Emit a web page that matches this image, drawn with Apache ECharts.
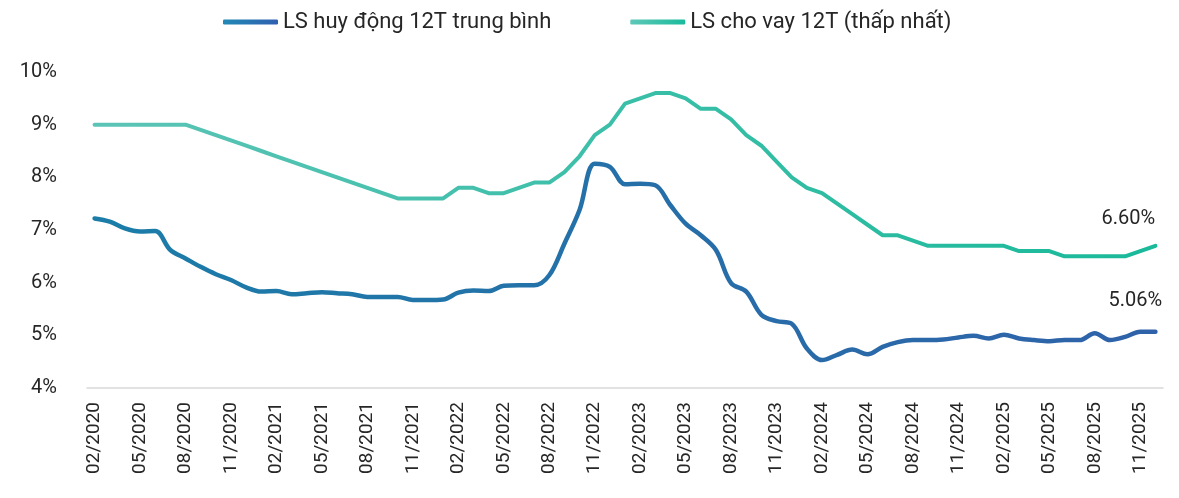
<!DOCTYPE html>
<html><head><meta charset="utf-8">
<script src="https://cdn.jsdelivr.net/npm/echarts@6/dist/echarts.min.js"></script>
<style>html,body{margin:0;padding:0;background:#fff}#c{width:1179px;height:498px}</style>
</head><body><div id="c"></div>
<script>
const seriesNames = ['LS huy động 12T trung bình', 'LS cho vay 12T (thấp nhất)'];
const months = [];
for (let y = 2020; y <= 2025; y++) {
  for (let m = (y === 2020 ? 2 : 1); m <= 12; m++) months.push(String(m).padStart(2, '0') + '/' + y);
}
const yTicks = [4, 5, 6, 7, 8, 9, 10];
const depositRate = [
  7.22, 7.16, 7.03, 6.97, 6.98, 6.62, 6.46, 6.30, 6.16, 6.05,
  5.91, 5.83, 5.84, 5.78, 5.80, 5.82, 5.80, 5.78, 5.73, 5.73,
  5.73, 5.67, 5.67, 5.68, 5.81, 5.85, 5.84, 5.94, 5.95, 5.95,
  6.14, 6.74, 7.38, 8.26, 8.20, 7.87, 7.88, 7.85, 7.47, 7.12,
  6.90, 6.62, 5.99, 5.83, 5.39, 5.27, 5.22, 4.75, 4.53, 4.63,
  4.73, 4.64, 4.78, 4.87, 4.91, 4.91, 4.92, 4.96, 4.99, 4.94,
  5.01, 4.94, 4.91, 4.89, 4.91, 4.91, 5.04, 4.91, 4.97, 5.07,
  5.07
];
const lendingRate = [
  9.0, 9.0, 9.0, 9.0, 9.0, 9.0, 9.0, 8.9, 8.8, 8.7,
  8.6, 8.5, 8.4, 8.3, 8.2, 8.1, 8.0, 7.9, 7.8, 7.7,
  7.6, 7.6, 7.6, 7.6, 7.8, 7.8, 7.7, 7.7, 7.8, 7.9,
  7.9, 8.1, 8.4, 8.8, 9.0, 9.4, 9.5, 9.6, 9.6, 9.5,
  9.3, 9.3, 9.1, 8.8, 8.6, 8.3, 8.0, 7.8, 7.7, 7.5,
  7.3, 7.1, 6.9, 6.9, 6.8, 6.7, 6.7, 6.7, 6.7, 6.7,
  6.7, 6.6, 6.6, 6.6, 6.5, 6.5, 6.5, 6.5, 6.5, 6.6,
  6.7
];
const endLabels = ['5.06%', '6.60%'];

const FONT = 'Roboto';
function withEndLabel(arr, text, offset) {
  return arr.map((v, i) => i === arr.length - 1 ? {
    value: v,
    label: { show: true, formatter: text, position: 'top', offset: offset,
      fontSize: 20, color: '#262626', fontFamily: FONT }
  } : v);
}
const grad = (a, b) => ({ type: 'linear', x: 0, y: 0, x2: 1, y2: 0,
  colorStops: [{ offset: 0, color: a }, { offset: 1, color: b }] });

const chart = echarts.init(document.getElementById('c'));
chart.setOption({
  animation: false,
  textStyle: { fontFamily: FONT },
  legend: {
    top: 6, left: 218, itemWidth: 55, itemHeight: 5, itemGap: 79,
    icon: 'roundRect',
    textStyle: { fontSize: 22, color: '#262626', fontFamily: FONT },
    data: seriesNames
  },
  grid: { left: 87, right: 16, top: 72, bottom: 110, containLabel: false },
  xAxis: {
    type: 'category', data: months, boundaryGap: true,
    axisLine: { show: true, lineStyle: { color: '#d9d9d9', width: 1.5 } },
    axisTick: { show: false },
    axisLabel: { rotate: 90, interval: 2, fontSize: 19, color: '#262626', margin: 14, fontFamily: FONT }
  },
  yAxis: {
    type: 'value', min: yTicks[0], max: yTicks[yTicks.length - 1], interval: 1,
    axisLine: { show: false }, axisTick: { show: false },
    splitLine: { show: false },
    axisLabel: { formatter: v => v + '%', fontSize: 20, color: '#262626', margin: 30, fontFamily: FONT }
  },
  series: [
    {
      name: seriesNames[0], type: 'line', smooth: 0.35,
      data: withEndLabel(depositRate, endLabels[0], [-20, -16]),
      symbol: 'circle', symbolSize: 0, showSymbol: true,
      color: '#2370a8',
      lineStyle: { width: 4.5, color: grad('#1b7da8', '#2f62a9'), cap: 'round' },
      itemStyle: { color: grad('#2189b5', '#3060b0') },
      z: 3
    },
    {
      name: seriesNames[1], type: 'line', smooth: false,
      data: withEndLabel(lendingRate, endLabels[1], [-27, -12]),
      symbol: 'circle', symbolSize: 0, showSymbol: true,
      color: '#3cbfa8',
      lineStyle: { width: 4, color: grad('#5cc4b6', '#19b99a'), cap: 'round' },
      itemStyle: { color: grad('#5fc8b8', '#19bb9c') },
      z: 2
    }
  ]
});
</script></body></html>
